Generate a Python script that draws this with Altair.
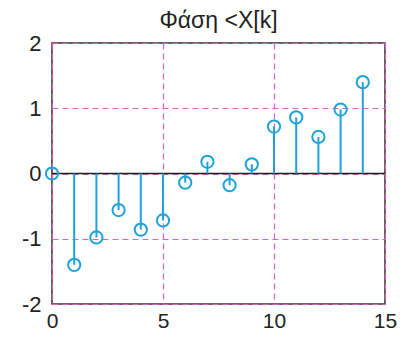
import altair as alt
import pandas as pd

k = list(range(15))
phase = [0.0, -1.40, -0.98, -0.56, -0.86, -0.72, -0.14, 0.18, -0.18, 0.14, 0.72, 0.86, 0.56, 0.98, 1.40]
x_ticks = [0, 5, 10, 15]
y_ticks = [-2, -1, 0, 1, 2]

df = pd.DataFrame({"k": k, "phase": phase, "zero": [0.0] * len(k)})

FONT = "Liberation Sans"
STEM = "#1fa2dc"

xs = alt.Scale(domain=[0, 15], nice=False, zero=False)
ys = alt.Scale(domain=[-2, 2], nice=False, zero=False)

base = alt.Chart(df)

grid = base.mark_rule(opacity=0).encode(
    x=alt.X("k:Q", scale=xs, title=None,
            axis=alt.Axis(values=x_ticks, labelExpr="'' + datum.value", grid=True, gridDash=[6, 4],
                          gridColor="#d864c9", gridWidth=1.2, ticks=False, labelPadding=6,
                          labelFontSize=21, labelFont=FONT, labelColor="#222", domain=False,
                          labelFlush=False)),
    y=alt.Y("phase:Q", scale=ys, title=None,
            axis=alt.Axis(values=y_ticks, labelExpr="'' + datum.value", grid=True, gridDash=[6, 4],
                          gridColor="#d864c9", gridWidth=1.2, ticks=False, labelPadding=11,
                          labelFontSize=22, labelFont=FONT, labelColor="#222", domain=False,
                          labelFlush=False)),
)

zero_line = alt.Chart(pd.DataFrame({"z": [0.0]})).mark_rule(color="#222", strokeWidth=1.3).encode(
    y=alt.Y("z:Q", scale=ys)
)

stems = base.mark_rule(color=STEM, strokeWidth=2).encode(
    x=alt.X("k:Q", scale=xs),
    y=alt.Y("zero:Q", scale=ys),
    y2="phase:Q",
)

points = base.mark_point(filled=False, color=STEM, size=150, strokeWidth=2, opacity=1).encode(
    x=alt.X("k:Q", scale=xs),
    y=alt.Y("phase:Q", scale=ys),
)

chart = alt.layer(grid, zero_line, stems, points).properties(
    width=333,
    height=261,
    title=alt.TitleParams("Φάση <X[k]", font=FONT, fontSize=23, fontWeight="normal",
                          color="#222", offset=3, dy=4, anchor="middle"),
    autosize=alt.AutoSizeParams(type="none"),
    padding={"left": 44, "top": 35, "right": 18, "bottom": 27},
).configure_view(stroke="#3a2e28", strokeWidth=1.5)

chart.save("out.html", embed_options={"renderer": "svg", "actions": False})
